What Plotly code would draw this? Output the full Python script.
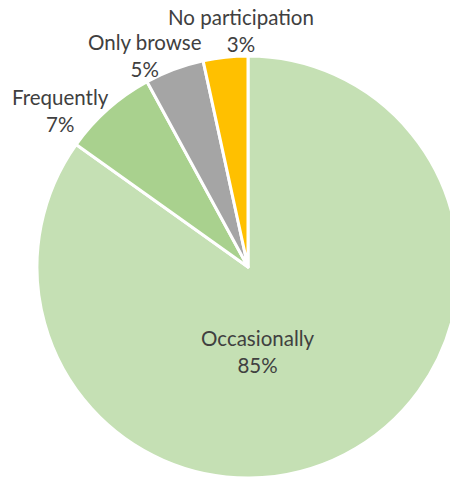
import plotly.graph_objects as go

labels = ["Occasionally", "Frequently", "Only browse", "No participation"]
values = [84.85, 7.21, 4.53, 3.41]
pct_labels = ["85%", "7%", "5%", "3%"]
colors = ["#C5E0B4", "#A9D18E", "#A5A5A5", "#FFC000"]

W, H = 460, 478
# label block centres in pixels (layout positions, not data)
label_pos = [(258, 351), (60, 111), (145, 56), (241, 31)]

fig = go.Figure(go.Pie(
    labels=labels,
    values=values,
    sort=False,
    direction="clockwise",
    rotation=0,
    marker=dict(colors=colors, line=dict(color="white", width=3)),
    textinfo="none",
    showlegend=False,
    hoverinfo="label+percent",
    domain=dict(x=[37 / W, 459 / W], y=[0, 422 / H]),
))

for lab, pct, (px, py) in zip(labels, pct_labels, label_pos):
    fig.add_annotation(
        x=px / W, y=1 - py / H, xref="paper", yref="paper",
        text=f"{lab}<br>{pct}", showarrow=False,
        xanchor="center", yanchor="middle", align="center",
        font=dict(family="Lato", size=20.5, color="#404040"),
    )

fig.update_layout(
    width=W, height=H,
    margin=dict(l=0, r=0, t=0, b=0),
    paper_bgcolor="white",
    plot_bgcolor="white",
)
fig.write_html(
    "out.html",
    config={"displayModeBar": False},
    post_script="document.body.style.margin='0';document.body.style.overflow='hidden';document.documentElement.style.overflow='hidden';",
)
